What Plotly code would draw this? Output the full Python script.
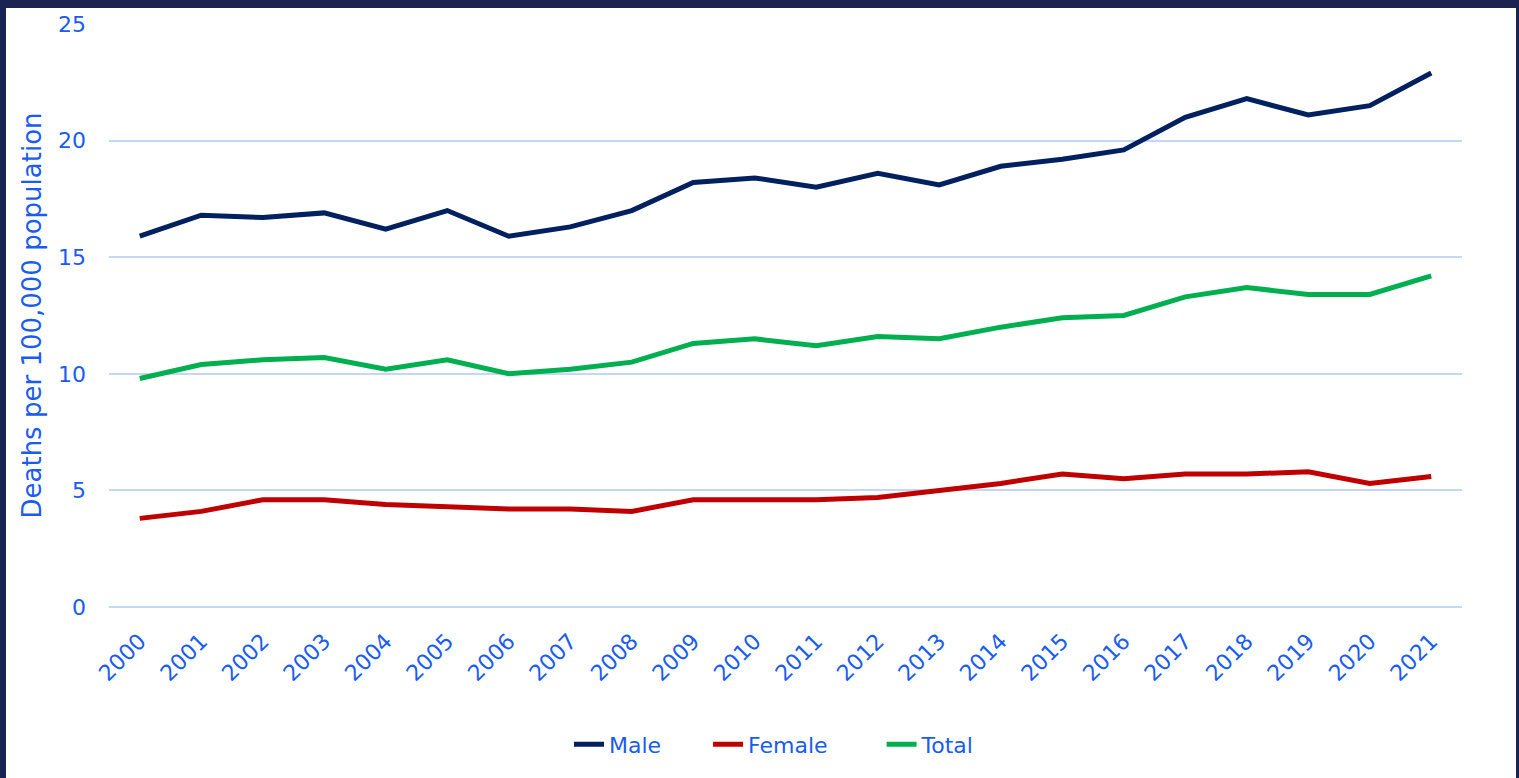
import plotly.graph_objects as go

years = [str(y) for y in range(2000, 2022)]
male = [15.9, 16.8, 16.7, 16.9, 16.2, 17.0, 15.9, 16.3, 17.0, 18.2, 18.4, 18.0, 18.6, 18.1, 18.9, 19.2, 19.6, 21.0, 21.8, 21.1, 21.5, 22.9]
female = [3.8, 4.1, 4.6, 4.6, 4.4, 4.3, 4.2, 4.2, 4.1, 4.6, 4.6, 4.6, 4.7, 5.0, 5.3, 5.7, 5.5, 5.7, 5.7, 5.8, 5.3, 5.6]
total = [9.8, 10.4, 10.6, 10.7, 10.2, 10.6, 10.0, 10.2, 10.5, 11.3, 11.5, 11.2, 11.6, 11.5, 12.0, 12.4, 12.5, 13.3, 13.7, 13.4, 13.4, 14.2]

series = [("Male", male, "#002060", 6), ("Female", female, "#c00000", 7), ("Total", total, "#00b050", 0)]
text_color = "#1a5cf0"
font = "DejaVu Sans, Verdana, sans-serif"

fig = go.Figure()
for name, vals, col, pad in series:
    fig.add_trace(go.Scatter(x=years, y=vals, name=name + "\u00a0" * pad, mode="lines",
                             line=dict(color=col, width=5)))

W, H = 1519, 778
l, r, t, b = 109, 57, 22, 171
pw, ph = W - l - r, H - t - b

def px2paper_x(px):
    return (px - l) / pw

def px2paper_y(py):
    return (H - b - py) / ph

fig.update_layout(
    width=W, height=H,
    margin=dict(l=l, r=r, t=t, b=b, pad=0),
    paper_bgcolor="#1b2350",
    plot_bgcolor="rgba(0,0,0,0)",
    font=dict(family=font, color=text_color, size=22),
    showlegend=True,
    legend=dict(orientation="h", x=px2paper_x(569), xanchor="left", y=px2paper_y(745), yanchor="middle",
                font=dict(size=22, color=text_color), bgcolor="rgba(0,0,0,0)"),
    shapes=[dict(type="rect", xref="paper", yref="paper",
                 x0=px2paper_x(6), x1=px2paper_x(1516), y0=px2paper_y(800), y1=px2paper_y(6),
                 fillcolor="white", line=dict(width=0), layer="below")],
    xaxis=dict(type="category", range=[-0.5, 21.5], tickangle=-45, showgrid=False,
               showline=False, ticks="", ticklabelstandoff=16,
               tickfont=dict(size=22, color=text_color)),
    yaxis=dict(range=[0, 25], dtick=5, showgrid=True, gridcolor="#c5d7f7", gridwidth=1.5,
               zeroline=True, zerolinecolor="#c5d7f7", zerolinewidth=1.5,
               showline=False, ticks="", ticklabelstandoff=22,
               tickfont=dict(size=22, color=text_color),
               title=dict(text="Deaths per 100,000 population", font=dict(size=26, color=text_color), standoff=8)),
)
fig.write_html("out.html", config={"displayModeBar": False},
               post_script="document.body.style.margin='0';document.body.style.overflow='hidden';")
